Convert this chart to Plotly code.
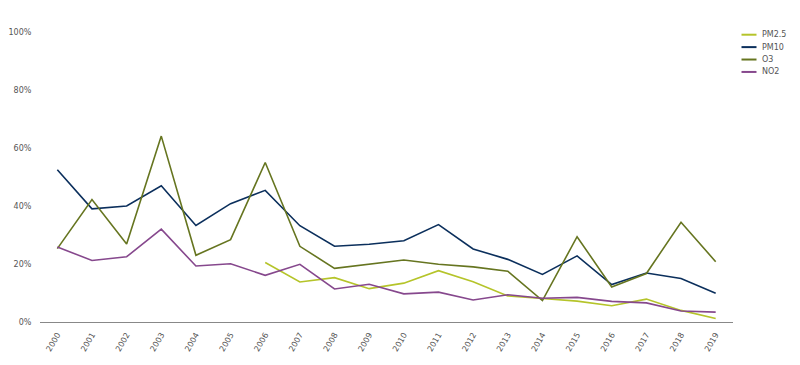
import plotly.graph_objects as go

years = [str(y) for y in range(2000, 2020)]
pm25 = [None, None, None, None, None, None, 20.5, 13.8, 15.3, 11.5, 13.4, 17.7, 13.9, 9.0, 8.1, 7.2, 5.6, 7.9, 4.0, 1.2]
pm10 = [52.5, 39.0, 40.0, 47.0, 33.3, 40.8, 45.4, 33.2, 26.1, 26.8, 28.0, 33.6, 25.2, 21.6, 16.4, 22.8, 12.9, 16.9, 15.0, 9.9]
o3 = [25.3, 42.2, 26.9, 64.1, 23.0, 28.4, 55.0, 26.1, 18.5, 19.9, 21.4, 19.9, 19.0, 17.5, 7.4, 29.4, 12.1, 16.7, 34.4, 20.8]
no2 = [25.9, 21.2, 22.5, 32.0, 19.3, 20.1, 16.1, 19.9, 11.4, 13.0, 9.7, 10.3, 7.6, 9.4, 8.2, 8.5, 7.1, 6.6, 3.8, 3.4]

series = [
    ("PM2.5", pm25, "#b5c42a"),
    ("PM10", pm10, "#0b2f5c"),
    ("O3", o3, "#667520"),
    ("NO2", no2, "#86488d"),
]

# page body has an 8px margin; figure sized to fit inside the 800x365 window
OFF = 8
W, H = 792, 357
ML, MR, MT, MB = 40 - OFF, 792 - (733 - OFF), 32 - OFF, 357 - (321.7 - OFF)
pw = W - ML - MR
ph = H - MT - MB

fig = go.Figure()
for name, vals, col in series:
    fig.add_trace(go.Scatter(
        x=years, y=[None if v is None else v / 100 for v in vals],
        mode="lines", name=name,
        line=dict(color=col, width=1.6),
        connectgaps=False,
    ))

# manual legend (screen pixel positions converted to paper coords)
shapes, annos = [], []
for i, (name, vals, col) in enumerate(series):
    ypx = 34.7 + i * 12.4 - OFF
    yp = 1 - (ypx - MT) / ph
    x0 = (741.5 - OFF - ML) / pw
    x1 = (756.5 - OFF - ML) / pw
    shapes.append(dict(type="line", xref="paper", yref="paper", x0=x0, x1=x1, y0=yp, y1=yp,
                       line=dict(color=col, width=2)))
    annos.append(dict(xref="paper", yref="paper", x=(760 - OFF - ML) / pw, y=yp, text=name,
                      showarrow=False, xanchor="left", yanchor="middle",
                      font=dict(size=8, color="#555555")))

fig.update_layout(
    width=W, height=H,
    margin=dict(l=ML, r=MR, t=MT, b=MB, autoexpand=False),
    paper_bgcolor="white", plot_bgcolor="white",
    font=dict(family="DejaVu Sans, Verdana, sans-serif", size=8, color="#555555"),
    showlegend=False,
    shapes=shapes, annotations=annos,
    xaxis=dict(type="category", range=[-0.5, 19.5], tickangle=-60, automargin=False,
               showgrid=False, showline=True, linecolor="#888888", linewidth=1,
               ticks="outside", ticklen=4, tickcolor="rgba(0,0,0,0)",
               tickfont=dict(size=8, color="#555555")),
    yaxis=dict(range=[0, 1], tickvals=[0, 0.2, 0.4, 0.6, 0.8, 1.0], automargin=False,
               tickformat=".0%", showgrid=False, zeroline=False, showline=False,
               ticks="outside", ticklen=6, tickcolor="rgba(0,0,0,0)",
               tickfont=dict(size=8, color="#555555")),
)

fig.write_html("out.html")
